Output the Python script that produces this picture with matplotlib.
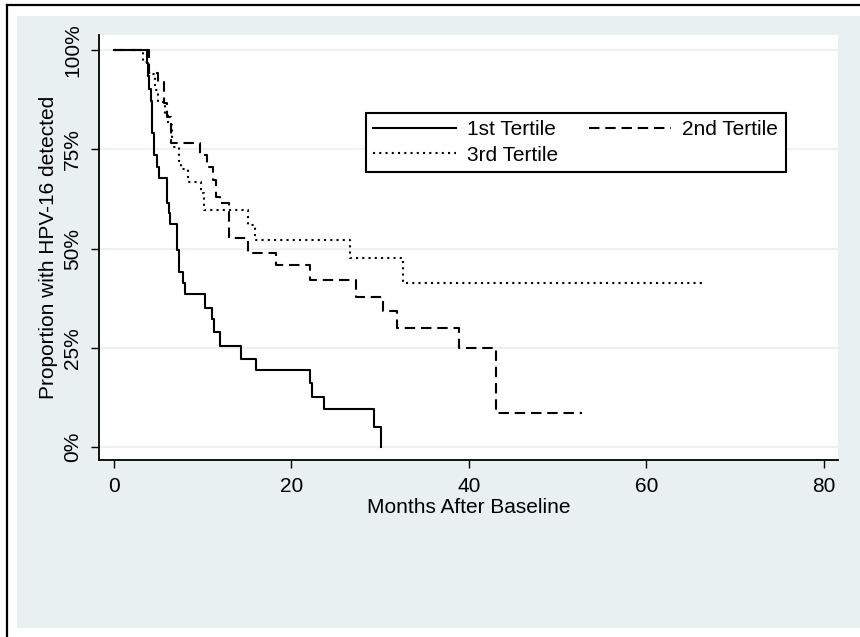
import matplotlib
matplotlib.use("Agg")
import matplotlib.pyplot as plt
from matplotlib.patches import Rectangle
from matplotlib.lines import Line2D

plt.rcParams['font.family'] = ['Liberation Sans', 'DejaVu Sans']

# Kaplan-Meier steps (months, proportion still detected)
t1 = [0, 3.7, 3.85, 4.0, 4.15, 4.32, 4.5, 4.81, 5.07, 5.94, 6.17, 6.31, 7.13, 7.3, 7.8, 8.0,
      10.25, 11.0, 11.27, 11.94, 14.3, 15.97, 22.1, 22.3, 23.7, 29.3, 30.1]
s1 = [1.0, 0.968, 0.935, 0.903, 0.871, 0.79, 0.735, 0.706, 0.677, 0.614, 0.589, 0.563, 0.496, 0.441, 0.412, 0.385,
      0.349, 0.322, 0.29, 0.254, 0.222, 0.194, 0.160, 0.127, 0.096, 0.05, 0.0]

t2 = [0, 4.0, 5.0, 5.6, 6.0, 6.4, 9.7, 10.5, 11.2, 11.5, 11.9, 13.0, 15.1, 18.3, 22.1, 27.3, 30.3, 31.9,
      38.9, 43.1, 52.7]
s2 = [1.0, 0.943, 0.92, 0.866, 0.83, 0.766, 0.735, 0.706, 0.673, 0.63, 0.615, 0.526, 0.489, 0.458, 0.42, 0.379, 0.343, 0.30,
      0.249, 0.085, 0.085]

t3 = [0, 3.3, 4.0, 4.6, 5.0, 5.8, 6.1, 6.5, 7.3, 7.6, 8.3, 9.8, 10.1, 15.1, 15.9, 26.6, 32.6, 66.6]
s3 = [1.0, 0.97, 0.94, 0.90, 0.87, 0.84, 0.81, 0.755, 0.72, 0.70, 0.667, 0.64, 0.597, 0.56, 0.521, 0.475, 0.412, 0.412]

labels = ['1st Tertile', '2nd Tertile', '3rd Tertile']
yticks = [0, 0.25, 0.5, 0.75, 1.0]
yticklabels = ['0%', '25%', '50%', '75%', '100%']
xticks = [0, 20, 40, 60, 80]

W, H = 860, 637
fig = plt.figure(figsize=(W / 100, H / 100), dpi=100)
fig.patch.set_facecolor('white')

# graph region (light bluish grey) and outer frame
fig.patches.append(Rectangle((17 / W, 1 - 628 / H), 1 - 17 / W, (628 - 16) / H,
                             transform=fig.transFigure, facecolor='#e8f0f2', edgecolor='none', zorder=0))
fig.lines.append(Line2D([7 / W, 7 / W], [0, 1 - 5 / H], transform=fig.transFigure, color='black', lw=1.6))
fig.lines.append(Line2D([7 / W, 1], [1 - 5 / H, 1 - 5 / H], transform=fig.transFigure, color='black', lw=1.6))

ax = fig.add_axes([99 / W, 1 - 460 / H, (838 - 99) / W, (460 - 35) / H])
ax.set_facecolor('white')
ax.set_zorder(1)

ax.step(t1, s1, where='post', color='black', lw=1.5, label=labels[0])
ax.step(t2, s2, where='post', color='black', lw=1.5, linestyle=(0, (5, 2.8)), label=labels[1])
ax.step(t3, s3, where='post', color='black', lw=1.5, linestyle=(0, (1, 2)), label=labels[2])

ax.set_xlim(-1.69, 81.58)
ax.set_ylim(-0.0327, 1.0378)
ax.set_xticks(xticks)
ax.set_yticks(yticks)
ax.set_yticklabels(yticklabels, rotation=90, va='center')
ax.tick_params(axis='both', labelsize=15, colors='black', width=1, length=6)
ax.tick_params(axis='x', pad=6.5)
ax.tick_params(axis='y', pad=6)
ax.yaxis.grid(True, color='#eaf2f3', lw=1.5)
ax.set_axisbelow(True)
for side in ['top', 'right']:
    ax.spines[side].set_visible(False)
for side in ['left', 'bottom']:
    ax.spines[side].set_linewidth(1.3)

ax.set_xlabel('Months After Baseline', fontsize=15, labelpad=1.5)
ax.set_ylabel('Proportion with HPV-16 detected', fontsize=15, labelpad=4)

h, l = ax.get_legend_handles_labels()
order = [0, 2, 1]
leg = ax.legend([h[i] for i in order], [l[i] for i in order], ncol=2, fontsize=15,
                loc='upper left', bbox_to_anchor=(366 / W, 1 - 113 / H), bbox_transform=fig.transFigure,
                frameon=True, fancybox=False, framealpha=1, edgecolor='black',
                handlelength=3.95, handletextpad=0.53, columnspacing=1.5, labelspacing=0.3,
                borderpad=0.35, borderaxespad=0)
leg.get_frame().set_linewidth(1.5)

fig.savefig('out.png', dpi=100)
